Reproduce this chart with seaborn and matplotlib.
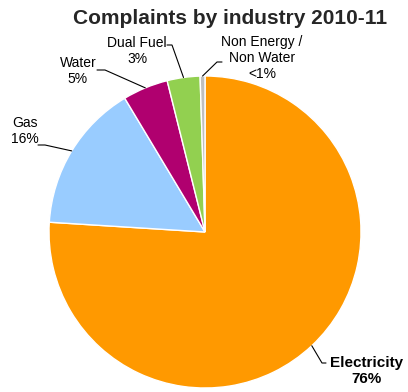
import matplotlib
matplotlib.use('Agg')
import matplotlib.pyplot as plt
import numpy as np
import seaborn as sns

# data
industries = ['Electricity', 'Gas', 'Water', 'Dual Fuel', 'Non Energy /\nNon Water']
shares = [76.0, 15.4, 4.7, 3.4, 0.5]
pct_labels = ['76%', '16%', '5%', '3%', '<1%']
colors = ['#FF9900', '#99CCFF', '#B0006F', '#92D050', '#BFBFBF']

sns.set_theme(style='white')
plt.rcParams['font.family'] = ['Liberation Sans', 'DejaVu Sans']

W, H = 408, 392
CX, CY, R = 205, 232, 156  # pie centre / radius in pixels


def px(x, y):
    # pixel position -> data coords (pie radius = 1)
    return (x - CX) / R, (CY - y) / R


fig = plt.figure(figsize=(W / 100, H / 100), dpi=100)
ax = fig.add_axes([0, 0, 1, 1])

wedges, _ = ax.pie(shares, colors=colors, startangle=90, counterclock=False,
                   radius=1, wedgeprops=dict(edgecolor='white', linewidth=1))

ax.set_xlim(px(0, 0)[0], px(W, 0)[0])
ax.set_ylim(px(0, H)[1], px(0, 0)[1])
ax.set_aspect('equal')
ax.axis('off')

# label layout: text centre, leader start, leader knee (pixels)
layout = {
    'Electricity': ((367, 371), (326, 363), (322, 363)),
    'Gas': ((25, 131), (38, 145), (45, 145)),
    'Water': ((78, 71), (97, 70), (105, 70)),
    'Dual Fuel': ((137, 51), (167, 45), (172, 45)),
    'Non Energy /\nNon Water': ((262, 58), (222, 62), (217, 62)),
}

for w, name, pct in zip(wedges, industries, pct_labels):
    (tx, ty), start, knee = layout[name]
    mid = np.deg2rad((w.theta1 + w.theta2) / 2)
    end = (np.cos(mid), np.sin(mid))
    pts = [px(*start), px(*knee), end]
    ax.plot([p[0] for p in pts], [p[1] for p in pts], color='black', lw=0.8)
    bold = name == 'Electricity'
    ax.text(*px(tx, ty), f'{name}\n{pct}', ha='center', va='center',
            fontsize=11 if bold else 10, fontweight='bold' if bold else 'normal',
            linespacing=1.15, color='black')

fig.text(230 / W, 1 - 19 / H, 'Complaints by industry 2010-11', ha='center',
         va='center', fontsize=15, fontweight='bold')

fig.savefig('out.png', dpi=100, facecolor='white')
